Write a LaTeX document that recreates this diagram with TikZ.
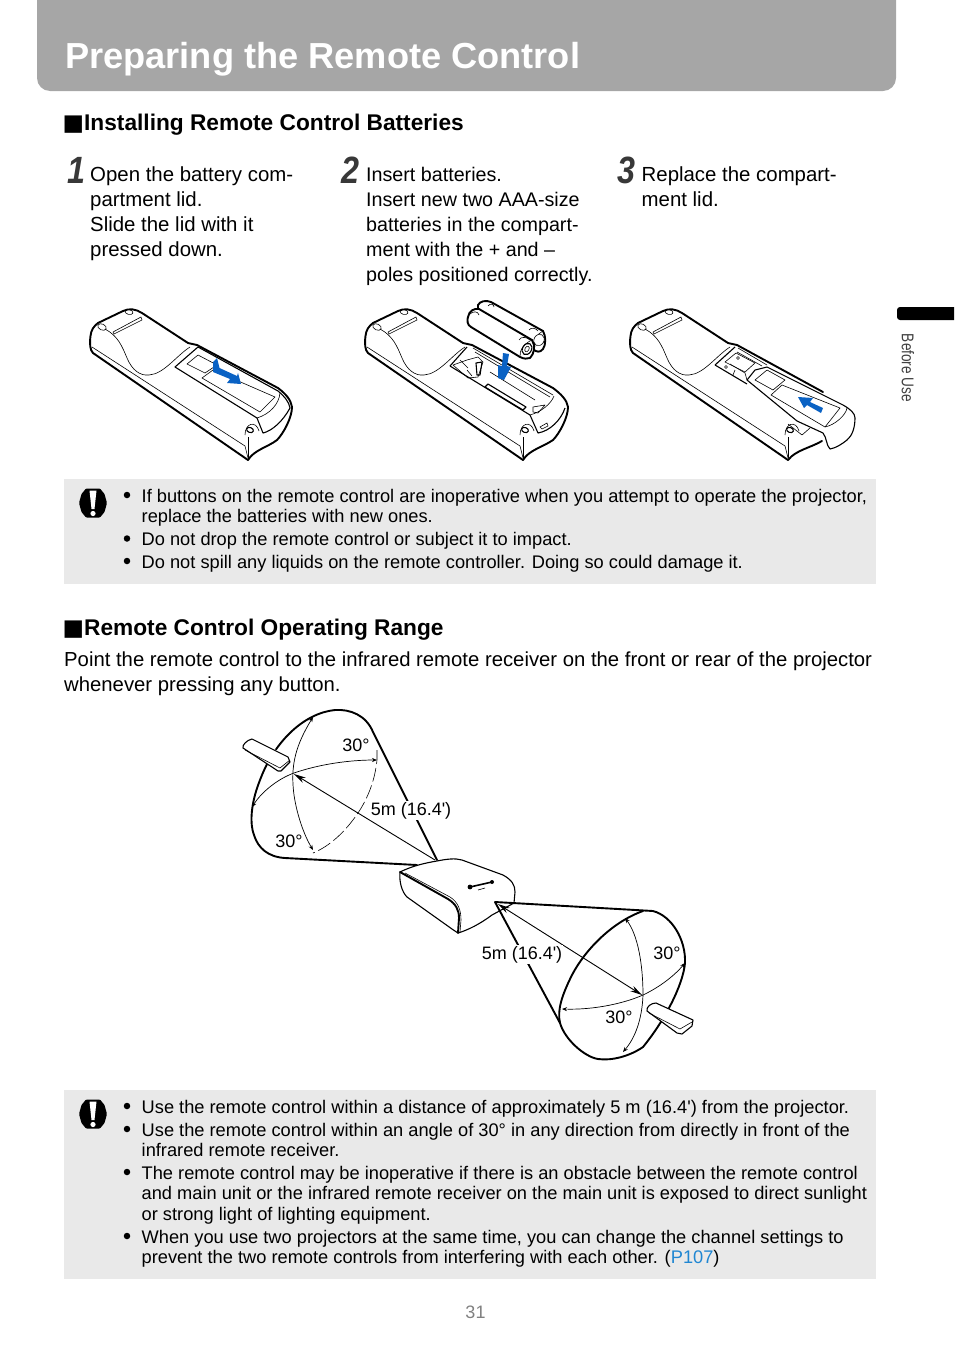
\documentclass[tikz,border=0pt]{standalone}
\usepackage{fontspec}
\setmainfont[Ligatures=TeXOff]{Liberation Sans}
\newfontfamily\symfont{DejaVu Sans}
\usepackage{graphicx}
\usetikzlibrary{arrows.meta}
\definecolor{bannergray}{HTML}{A6A6A6}
\definecolor{notegray}{HTML}{E9E9E9}
\definecolor{arrowblue}{HTML}{0A62C4}
\definecolor{linkblue}{HTML}{1F86D2}
% left part that all three remotes have
\newcommand{\remotehead}{
\draw[thick line] (248,460) -- (93,353) .. controls (90,350) and (89.5,344) .. (90.5,336) .. controls (91,330) and (94,326) .. (98,323) -- (123,311) .. controls (129,308) and (136,309) .. (142,313) -- (188,343);
\draw[thin line] (92,347) -- (245,446) -- (248,458);
\draw[thin line] (105,329) .. controls (118,336) and (122,346) .. (127,358) .. controls (132,370) and (140,376) .. (149,375) .. controls (164,374) and (176,356) .. (190,347);
\draw[thin line] (113,332) -- (141,317) -- (142,320) -- (114,334) -- cycle;
\draw[thin line,rotate around={-25:(102,327)}] (102,327) ellipse (4.5 and 3);
\draw[thin line,rotate around={-15:(129,312)}] (129,312) ellipse (4 and 2.5);
\draw[thin line] (245,435) .. controls (245,423) and (256,420) .. (259,431);
\draw[mid line,rotate around={-20:(250,430)}] (250,430) ellipse (3.5 and 2.5);
\draw[thin line] (248,437) -- (248,458);
}
\newcommand{\cautionicon}[2]{
\fill[black,rounded corners=1] (#1-7,#2-14.5) -- (#1+7,#2-14.5) -- (#1+11.5,#2-9) -- (#1+14,#2) -- (#1+11.5,#2+9) -- (#1+7,#2+14.5) -- (#1-7,#2+14.5) -- (#1-11.5,#2+9) -- (#1-14,#2) -- (#1-11.5,#2-9) -- cycle;
\fill[white] (#1-3.5,#2-12.5) -- (#1+3.5,#2-12.5) -- (#1+1.5,#2+6) -- (#1-1.5,#2+6) -- cycle;
\fill[white] (#1,#2+10.5) circle (2.6);
}
\begin{document}
\begin{tikzpicture}[x=1pt,y=-1pt]
\tikzstyle{thick line}=[line width=1.9,line join=round,line cap=round]
\tikzstyle{mid line}=[line width=1.1,line join=round]
\tikzstyle{thin line}=[line width=.6,line join=round]
\tikzstyle{lidshape}=[line width=1.1,line join=round,fill=white]
\tikzstyle{blue arrow}=[fill=arrowblue]
\tikzstyle{pagetitle}=[anchor=base west,inner sep=0,text=white,font=\fontsize{36.2}{37}\selectfont\bfseries]
\tikzstyle{headline}=[anchor=base west,inner sep=0,font=\fontsize{22.7}{23}\selectfont\bfseries]
\tikzstyle{stepnum}=[anchor=base west,inner sep=0,text=black!78,font=\fontsize{38}{38}\selectfont\bfseries\itshape]
\tikzstyle{steptext}=[anchor=north west,inner sep=0,align=left,font=\fontsize{20.4}{25}\selectfont]
\tikzstyle{introtext}=[anchor=north west,inner sep=0,align=left,font=\fontsize{20.3}{25}\selectfont]
\tikzstyle{notetext}=[anchor=north west,inner sep=0,align=left,font=\fontsize{18.25}{20.5}\selectfont]
\tikzstyle{bullet node}=[circle,fill=black,inner sep=0,minimum size=6.5]
\tikzstyle{rangelabel}=[inner sep=1,fill=white,font=\fontsize{18}{18}\selectfont]
\tikzstyle{anglelabel}=[inner sep=0,font=\fontsize{18}{18}\selectfont]
\tikzstyle{range arrow}=[line width=.7,{Stealth[length=5,width=4]}-{Stealth[length=5,width=4]}]
\tikzstyle{distance arrow}=[line width=.9,-{Stealth[length=12,width=6]}]
\useasboundingbox (0,0) rectangle (954,1352);
% page furniture
\fill[bannergray,rounded corners=13] (37,0) -- (37,91) -- (896,91) -- (896,0);
\node(title)[pagetitle] at (65,68) {Preparing the Remote Control};
\fill[black,rounded corners=3] (954,307) -- (897,307) -- (897,320) -- (954,320);
\node(tab)[rotate=-90,inner sep=0,text=black!75,font=\fontsize{17}{17}\selectfont] at (908,368) {\scalebox{.8}[1]{Before Use}};
\fill[notegray] (64,479) rectangle (876,584);
\fill[notegray] (64,1090) rectangle (876,1279);
\node(page)[inner sep=0,text=black!50,font=\fontsize{18}{18}\selectfont] at (475.5,1312) {31};
% batteries section
\node(head1)[headline] at (62.5,130) {{\symfont ■}Installing Remote Control Batteries};
\node(num1)[stepnum] at (67,183) {\scalebox{.85}[1]{1}};
\node(num2)[stepnum] at (341,183) {\scalebox{.85}[1]{2}};
\node(num3)[stepnum] at (617,183) {\scalebox{.85}[1]{3}};
\node(step1)[steptext] at (90,163.5) {\strut Open the battery com-\\partment lid.\\Slide the lid with it\\pressed down.};
\node(step2)[steptext,font=\fontsize{19.7}{25}\selectfont] at (366,163.5) {\strut Insert batteries.\\Insert new two AAA-size\\batteries in the compart-\\ment with the + and –\\poles positioned correctly.};
\node(step3)[steptext] at (641.5,163.5) {\strut Replace the compart-\\ment lid.};
% remote with lid on
\begin{scope}
\remotehead
\draw[thick line] (188,343) -- (197,345) -- (278,388) .. controls (286,394) and (291,400) .. (292,407) .. controls (292,418) and (283,434) .. (277,440) .. controls (268,447) and (254,450) .. (248,460);
\draw[lidshape] (175,367) -- (198,347) -- (278,391) .. controls (285,397) and (289,402) .. (290,408) .. controls (283,421) and (272,431) .. (263,433) -- (257,418) -- cycle;
\draw[thin line] (257,418) .. controls (270,414) and (279,404) .. (280,393);
\draw[thin line] (187,364) -- (198,355) -- (217,365) -- (205,373) -- cycle;
\draw[thin line] (202,378) -- (213,370) -- (275,397) -- (260,412) -- cycle;
\fill[blue arrow] (217,358) -- (219.5,368) -- (237,376) -- (238,373) -- (241,384) -- (227,383) -- (230,379) -- (213,372) -- (213,362) -- cycle;
\end{scope}
% remote with batteries going in
\begin{scope}[shift={(275,0)}]
\remotehead
\draw[thick line] (188,343) -- (197,345) -- (278,388) .. controls (286,394) and (292,400) .. (293,407) .. controls (293,418) and (284,434) .. (278,440) .. controls (268,447) and (254,450) .. (248,460);
\draw[mid line] (175,366) -- (192,347);
\draw[thin line] (198,348) -- (278,395) (200,352) -- (275,397);
\draw[mid line] (175,366) -- (255,415) -- (263,433) .. controls (275,431) and (286,420) .. (290,408);
\draw[thin line] (255,415) .. controls (266,412) and (276,404) .. (279,396);
\draw[thin line] (192,360) -- (203,357) -- (208,362) -- (203,377) -- (193,378) -- (178,365) -- cycle;
\draw[mid line] (201,363) -- (207,362) -- (205,375) -- (202,375) -- cycle;
\draw[thin line] (185,360) -- (193,368) (192,370) -- (197,376);
\draw[mid line] (210,387) -- (213,384) -- (251,407) -- (248,410) -- cycle;
\draw[thin line] (215,372) -- (260,400);
\draw[thin line] (258,407) -- (270,405) -- (263,413) -- (258,412) -- cycle;
\draw[thin line] (265,427) -- (272,423) -- (273,426) -- (267,429) -- cycle;
\end{scope}
% batteries
\draw[thick line,fill=white] (478,305) .. controls (480,301) and (486,300) .. (491,302) -- (543,331) .. controls (546,336) and (546,345) .. (543,349) .. controls (540,353) and (536,352) .. (533,349) -- (478,318) -- cycle;
\draw[thin line] (543,331) .. controls (537,334) and (533,340) .. (535,347);
\draw[thin line,fill=white,rotate around={-30:(539,340)}] (539,340) ellipse (5 and 6);
\draw[thick line,fill=white] (468,317) .. controls (469,311) and (474,308) .. (479,309) -- (532,340) .. controls (536,346) and (534,354) .. (530,358) .. controls (527,359) and (524,359) .. (520,357) -- (471,327) .. controls (467,325) and (467,320) .. (468,317) -- cycle;
\draw[thin line] (532,340) .. controls (525,343) and (519,350) .. (520,357);
\draw[mid line,rotate around={-30:(527,349)}] (527,349) ellipse (4.5 and 6);
\draw[thin line,rotate around={-30:(527,349)}] (527,349) ellipse (2 and 3);
\draw[thin line] (470,314) .. controls (473,311) and (478,311) .. (479,315) (488,306) .. controls (490,303) and (494,304) .. (494,307) (519,340) .. controls (521,336) and (527,337) .. (530,340) (529,330) .. controls (531,327) and (536,328) .. (538,331);
\fill[blue arrow] (503,353) -- (509,354) -- (507,366) -- (511,367) -- (504,380) -- (498,378) -- (498,365) -- (502,366) -- cycle;
% remote with lid coming back
\begin{scope}[shift={(540,0)}]
\remotehead
\draw[thick line] (188,343) -- (197,345) -- (283,392);
\draw[thick line] (248,460) .. controls (256,450) and (270,448) .. (282,441);
\draw[mid line] (175,365) -- (195,347);
\draw[thin line] (198,348) -- (227,365) (197,352) -- (222,366);
\draw[mid line] (175,365) -- (207,384);
\draw[thin line] (185,362) -- (196,353) -- (215,363) -- (205,372) -- cycle;
\draw[thin line] (190,364) -- (205,373) -- (207,380) (195,370) -- (193,375);
\draw[thin line] (186,367) circle (1.5) (198,358) circle (1.5);
\draw[thin line] (248,424) -- (262,435) -- (270,428);
\draw[lidshape] (207,380) -- (215,370) -- (227,367) -- (303,405) .. controls (310,409) and (315,413) .. (315,418) .. controls (315,428) and (312,436) .. (307,440) .. controls (302,444) and (296,448) .. (290,449) .. controls (286,445) and (287,438) .. (283,433) -- (257,421) -- cycle;
\draw[thin line] (215,380) -- (227,370) -- (245,380) -- (233,390) -- cycle;
\draw[thin line] (231,395) -- (242,385) -- (300,408) -- (285,427) -- cycle;
\draw[thin line] (285,427) .. controls (295,425) and (306,415) .. (307,408);
\fill[blue arrow] (258,397) -- (273,398) -- (270,402) -- (283,408) -- (281,413) -- (267,405) -- (264,408) -- cycle;
\end{scope}
% first note
\cautionicon{93}{503}
\node(dot11)[bullet node] at (127,495) {};
\node(note11)[notetext] at (141.5,487.7) {\strut If buttons on the remote control are inoperative when you attempt to operate the projector,\\replace the batteries with new ones.};
\node(dot12)[bullet node] at (127,538.5) {};
\node(note12)[notetext] at (141.5,531.2) {\strut Do not drop the remote control or subject it to impact.};
\node(dot13)[bullet node] at (127,561) {};
\node(note13)[notetext] at (141.5,553.7) {\strut Do not spill any liquids on the remote controller. Doing so could damage it.};
% range section
\node(head2)[headline] at (62.5,635) {{\symfont ■}Remote Control Operating Range};
\node(intro)[introtext] at (64,648.5) {\strut Point the remote control to the infrared remote receiver on the front or rear of the projector\\whenever pressing any button.};
% upper cone
\draw[thick line] (437,860) -- (373,732) .. controls (366,715) and (350,709) .. (335,710) .. controls (305,713) and (275,740) .. (260,780) .. controls (250,805) and (250,825) .. (254,835) .. controls (258,848) and (268,857) .. (285,858) -- (417,865);
\draw[range arrow] (313,717) .. controls (296,745) and (290,765) .. (294,795) .. controls (297,815) and (304,835) .. (313,850);
\draw[range arrow] (252,807) .. controls (263,790) and (280,778) .. (294,773) .. controls (320,764) and (350,760) .. (377,760);
\draw[thin line,dash pattern=on 14 off 4] (377,750) -- (377,760) .. controls (375,780) and (368,798) .. (358,813) .. controls (345,832) and (330,846) .. (313,853);
\draw[distance arrow] (435,860) -- (294,774);
\fill[white] (240,742) -- (248,736) -- (290,757) -- (285,773) -- cycle;
\draw[mid line,fill=white] (243,748) .. controls (242,745) and (247,740) .. (252,739) -- (288,757) -- (290,762) -- (281,771) -- (278,771) -- cycle;
\draw[thin line] (245,750) -- (280,768) -- (290,760);
% lower cone
\draw[thick line] (495,902) -- (653,911) .. controls (672,916) and (686,940) .. (685,963) .. controls (683,985) and (665,1020) .. (643,1047) .. controls (630,1056) and (612,1061) .. (598,1059) .. controls (585,1057) and (565,1040) .. (560,1023) -- (495,902);
\draw[thick line] (643,911) .. controls (612,922) and (585,950) .. (572,975) .. controls (562,995) and (557,1010) .. (560,1023);
\draw[range arrow] (625,918) .. controls (638,935) and (643,965) .. (643,995) .. controls (642,1020) and (635,1038) .. (623,1052);
\draw[range arrow] (562,1009) .. controls (595,1010) and (625,1003) .. (643,995) .. controls (660,987) and (675,975) .. (685,963);
\draw[line width=.9,{Stealth[length=12,width=6]}-{Stealth[length=12,width=6]}] (498,904) -- (642,995);
\draw[mid line,fill=white] (647,1011) .. controls (646,1007) and (651,1003) .. (656,1003) -- (693,1020) -- (692,1026) -- (682,1034) -- (677,1033) -- cycle;
\draw[thin line] (649,1013) -- (680,1029) -- (692,1022);
% projector
\draw[mid line] (400,872) .. controls (412,866) and (425,863) .. (437,861) .. controls (447,859) and (455,858) .. (462,860) -- (503,875) .. controls (512,880) and (515,885) .. (515,892) -- (514,903) -- (492,915);
\draw[mid line] (400,872) .. controls (399,882) and (402,892) .. (407,897) -- (452,929) -- (458,933) .. controls (468,930) and (480,924) .. (492,915);
\draw[thick line] (400,872) -- (448,899) .. controls (456,904) and (459,910) .. (459,918) -- (458,933);
\draw[thin line] (405,873) -- (450,897) .. controls (458,902) and (461,910) .. (461,920) -- (460,932);
\draw[line width=1.6] (470,887) -- (492,882);
\fill (470,887) circle (2.4) (492,882) circle (2);
\draw[thin line] (478,890) -- (485,888);
% labels over the cones
\node(range1)[rangelabel] at (411,810.5) {5m (16.4')};
\node(range2)[rangelabel] at (522,954.5) {5m (16.4')};
\node(ang1)[anglelabel] at (356,745) {30°};
\node(ang2)[anglelabel] at (289,841) {30°};
\node(ang3)[anglelabel] at (667,953) {30°};
\node(ang4)[anglelabel] at (619,1017) {30°};
% second note
\cautionicon{93}{1114}
\node(dot21)[bullet node] at (127,1106) {};
\node(note21)[notetext] at (141.5,1098.7) {\strut Use the remote control within a distance of approximately 5 m (16.4') from the projector.};
\node(dot22)[bullet node] at (127,1129) {};
\node(note22)[notetext] at (141.5,1121.7) {\strut Use the remote control within an angle of 30° in any direction from directly in front of the\\infrared remote receiver.};
\node(dot23)[bullet node] at (127,1172) {};
\node(note23)[notetext] at (141.5,1164.7) {\strut The remote control may be inoperative if there is an obstacle between the remote control\\and main unit or the infrared remote receiver on the main unit is exposed to direct sunlight\\or strong light of lighting equipment.};
\node(dot24)[bullet node] at (127,1236) {};
\node(note24)[notetext] at (141.5,1228.7) {\strut When you use two projectors at the same time, you can change the channel settings to\\prevent the two remote controls from interfering with each other. ({\color{linkblue}P107})};
\end{tikzpicture}
\end{document}
